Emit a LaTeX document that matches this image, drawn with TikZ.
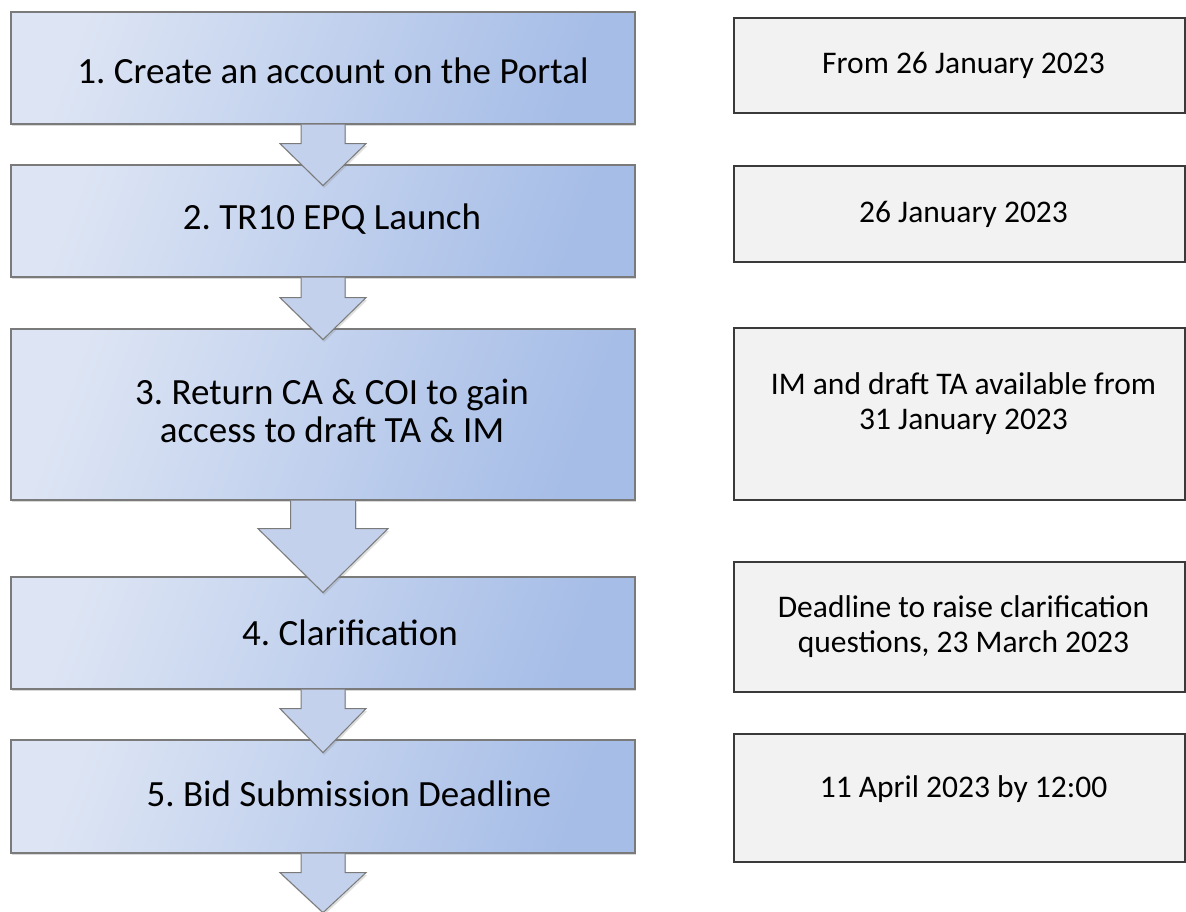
\documentclass[tikz,border=0pt]{standalone}
\usepackage{fontspec}
\setmainfont{Carlito}
\frenchspacing
\usetikzlibrary{calc}
\usetikzlibrary{shadows}

\definecolor{stepLight}{HTML}{DDE5F4}
\definecolor{stepDark}{HTML}{A6BDE7}
\definecolor{stepMid}{HTML}{C3D1EC}
\definecolor{stepEdge}{HTML}{7A7A7A}
\definecolor{noteFill}{HTML}{F2F2F2}
\definecolor{noteEdge}{HTML}{3A3A3A}

\begin{document}
\begin{tikzpicture}
[
    x=0.5pt, y=-0.5pt,
    sb/.style={draw=stepEdge, line width=0.6pt, left color=stepLight, right color=stepDark, shading angle=70,
               minimum width=312pt, inner sep=0pt,
               drop shadow={shadow xshift=0.6pt, shadow yshift=-1.2pt, opacity=0.3}},   % sb = step box
    nb/.style={draw=noteEdge, line width=0.75pt, fill=noteFill, minimum width=225.5pt, inner sep=0pt}, % nb = note box
    st/.style={font=\fontsize{18.5}{19}\selectfont, align=center},   % st = step text
    nt/.style={font=\fontsize{15.75}{17.5}\selectfont, align=center}, % nt = note text
    ar/.style={draw=stepEdge, line width=0.5pt, fill=stepMid,
               drop shadow={shadow xshift=0.6pt, shadow yshift=-1.2pt, opacity=0.25}},  % ar = block arrow
]

\useasboundingbox (0,0) rectangle (1186,911);

% steps
\node [sb, minimum height=56pt]   (b1) at (323,68)    {};
\node [sb, minimum height=56pt]   (b2) at (323,221)   {};
\node [sb, minimum height=85.5pt] (b3) at (323,414.5) {};
\node [sb, minimum height=56pt]   (b4) at (323,633)   {};
\node [sb, minimum height=56.5pt] (b5) at (323,796.5) {};

\node [st] (t1) at ($(b1.center)+(10,3)$)  {1. Create an account on the Portal};
\node [st] (t2) at ($(b2.center)+(9,-2)$)  {2. TR10 EPQ Launch};
\node [st] (t3) at ($(b3.center)+(9,-4)$)  {3. Return CA \& COI to gain\\access to draft TA \& IM};
\node [st] (t4) at ($(b4.center)+(27,0)$)  {4. Clarification};
\node [st] (t5) at ($(b5.center)+(26,-3)$) {5. Bid Submission Deadline};

% arrows between the steps
\foreach \a/\s/\h/\sw/\hw in {b1/19/42/22/43, b2/20/42/22/43, b3/28/64/32.5/65, b4/19/44/22/43, b5/19/40/22/43}
    \draw [ar] ($(\a.south)+(-\sw,0)$) -- ++(0,\s) -- ++(\sw-\hw,0) -- ++(\hw,\h)
               -- ++(\hw,-\h) -- ++(\sw-\hw,0) -- ++(0,-\s);

% dates
\node [nb, minimum height=47.5pt] (n1) at (959.5,65.5) {};
\node [nb, minimum height=48pt]   (n2) at (959.5,214)  {};
\node [nb, minimum height=86pt]   (n3) at (959.5,414)  {};
\node [nb, minimum height=65pt]   (n4) at (959.5,627)  {};
\node [nb, minimum height=64pt]   (n5) at (959.5,798)  {};

\node [nt] (d1) at ($(n1.center)+(4,0)$)   {From 26 January 2023};
\node [nt] (d2) at ($(n2.center)+(4,0)$)   {26 January 2023};
\node [nt] (d3) at ($(n3.center)+(4,-10)$) {IM and draft TA available from\\31 January 2023};
\node [nt] (d4) at ($(n4.center)+(4,0)$)   {Deadline to raise clarification\\questions, 23 March 2023};
\node [nt] (d5) at ($(n5.center)+(4,-9)$)  {11 April 2023 by 12:00};

\end{tikzpicture}
\end{document}
